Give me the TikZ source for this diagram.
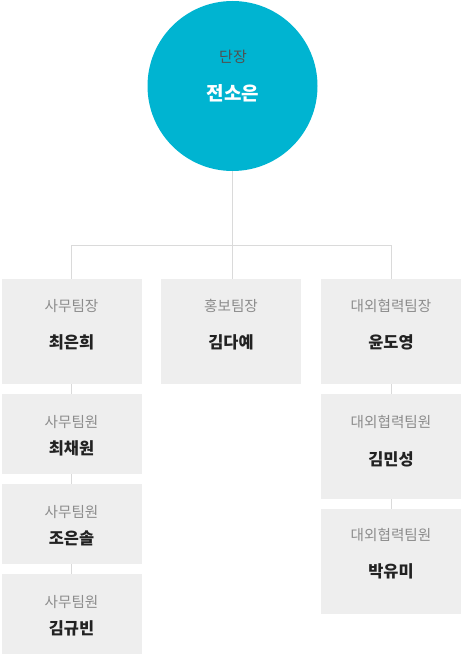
\documentclass[tikz,border=0pt]{standalone}
\usepackage{fontspec}
\newfontfamily\kr{Noto Sans CJK KR}
\definecolor{teamcyan}{RGB}{0, 180, 209}
\definecolor{boxgray}{RGB}{238, 238, 238}
\definecolor{linegray}{RGB}{218, 218, 218}
\definecolor{titlegray}{RGB}{140, 140, 140}
\definecolor{namedark}{RGB}{34, 34, 34}
\definecolor{chiefgray}{RGB}{80, 80, 80}

\tikzset{
  teambox/.style={rectangle, fill=boxgray, minimum width=140, minimum height=105, inner sep=0},
  memberbox/.style={teambox, minimum height=80},
  roletext/.style={font=\kr\fontsize{14.6}{16}\selectfont, text=titlegray, inner sep=0},
  nametext/.style={font=\kr\bfseries\fontsize{16.4}{18}\selectfont, text=namedark, inner sep=0},
  link/.style={draw=linegray, line width=1}
}

\begin{document}
\begin{tikzpicture}[x=1pt, y=-1pt]
    \useasboundingbox (0,0) rectangle (462,655);

    % Leader
    \node[circle, fill=teamcyan, minimum size=170, inner sep=0] (chief) at (232.5,86) {};
    \node[roletext, text=chiefgray, font=\kr\fontsize{15}{17}\selectfont] (chiefrole) at (233,57) {단장};
    \node[nametext, text=white, font=\kr\bfseries\fontsize{19}{21}\selectfont] (chiefname) at (233,93) {전소은};

    % Team heads
    \node[teambox] (office) at (71.5,331.5) {};
    \node[teambox] (pr) at (231,331.5) {};
    \node[teambox] (ext) at (391,331.5) {};

    % Office team members
    \node[memberbox] (office1) at (71.5,434) {};
    \node[memberbox] (office2) at (71.5,524) {};
    \node[memberbox] (office3) at (71.5,614) {};

    % External team members
    \node[teambox] (ext1) at (391,446.5) {};
    \node[teambox] (ext2) at (391,561.5) {};

    % Connectors
    \coordinate (split) at (232.5,245);
    \coordinate (leftend) at (71.5,245);
    \coordinate (rightend) at (391,245);
    \draw[link] (chief.south) -- (split);
    \draw[link] (leftend) -- (rightend);
    \draw[link] (leftend) -- (office.north);
    \draw[link] (split) -- (split |- pr.north);
    \draw[link] (rightend) -- (ext.north);
    \draw[link] (office.south) -- (office1.north);
    \draw[link] (office1.south) -- (office2.north);
    \draw[link] (office2.south) -- (office3.north);
    \draw[link] (ext.south) -- (ext1.north);
    \draw[link] (ext1.south) -- (ext2.north);

    % Labels
    \node[roletext] (officerole) at (71.5,306) {사무팀장};
    \node[nametext] (officename) at (71.5,342.5) {최은희};
    \node[roletext] (prrole) at (231,306) {홍보팀장};
    \node[nametext] (prname) at (231,342.5) {김다예};
    \node[roletext] (extrole) at (391,306) {대외협력팀장};
    \node[nametext] (extname) at (391,342.5) {윤도영};

    \node[roletext] (office1role) at (71.5,422) {사무팀원};
    \node[nametext] (office1name) at (71.5,448) {최채원};
    \node[roletext] (office2role) at (71.5,512) {사무팀원};
    \node[nametext] (office2name) at (71.5,538) {조은솔};
    \node[roletext] (office3role) at (71.5,602) {사무팀원};
    \node[nametext] (office3name) at (71.5,628) {김규빈};

    \node[roletext] (ext1role) at (391,422) {대외협력팀원};
    \node[nametext] (ext1name) at (391,459) {김민성};
    \node[roletext] (ext2role) at (391,534.5) {대외협력팀원};
    \node[nametext] (ext2name) at (391,571.5) {박유미};
\end{tikzpicture}
\end{document}
